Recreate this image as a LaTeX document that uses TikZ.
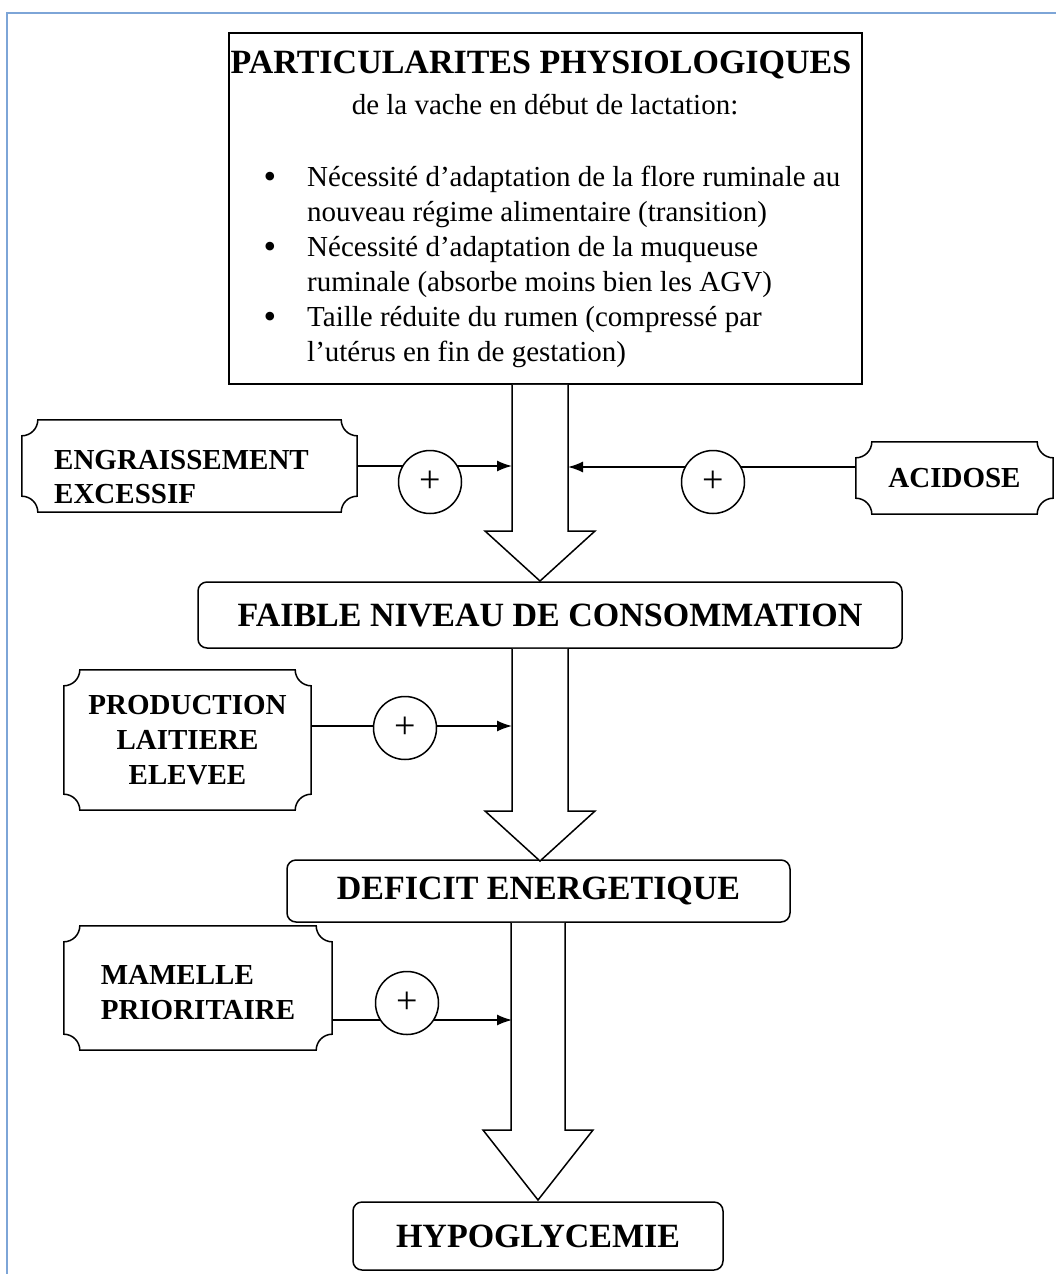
\documentclass[tikz,border=0pt]{standalone}
\usepackage{fontspec}
\setmainfont{Liberation Serif}
\usetikzlibrary{arrows.meta,backgrounds,calc}
\definecolor{frameblue}{RGB}{125,165,215}
\newcommand\plaque[1]{%
  \draw[line width=1.5pt]
    ([yshift=-16pt]#1.north west) .. controls ([xshift=8.8pt,yshift=-16pt]#1.north west) and ([xshift=16pt,yshift=-8.8pt]#1.north west) .. ([xshift=16pt]#1.north west)
    -- ([xshift=-16pt]#1.north east) .. controls ([xshift=-16pt,yshift=-8.8pt]#1.north east) and ([xshift=-8.8pt,yshift=-16pt]#1.north east) .. ([yshift=-16pt]#1.north east)
    -- ([yshift=16pt]#1.south east) .. controls ([xshift=-8.8pt,yshift=16pt]#1.south east) and ([xshift=-16pt,yshift=8.8pt]#1.south east) .. ([xshift=-16pt]#1.south east)
    -- ([xshift=16pt]#1.south west) .. controls ([xshift=16pt,yshift=8.8pt]#1.south west) and ([xshift=8.8pt,yshift=16pt]#1.south west) .. ([yshift=16pt]#1.south west)
    -- cycle;}
% #1 source node, #2 tip coordinate, #3 head height, #4 shaft half width, #5 head half width
\newcommand\blockarrow[5]{%
  \draw[barrow] let \p1=(#1.south), \p2=(#2) in
    (\x2-#4,\y1) -- (\x2-#4,\y2+#3) -- (\x2-#5,\y2+#3) -- (\x2,\y2)
    -- (\x2+#5,\y2+#3) -- (\x2+#4,\y2+#3) -- (\x2+#4,\y1);}
\begin{document}
\begin{tikzpicture}[x=1pt,y=-1pt,
  box/.style={draw,line width=1.5pt,inner sep=0pt},
  rbox/.style={draw,line width=1.5pt,rounded corners=9pt,inner sep=0pt,
    font=\fontsize{34}{38}\selectfont\bfseries},
  ptext/.style={inner sep=0pt,align=left,font=\fontsize{29}{34}\selectfont\bfseries},
  pluscirc/.style={circle,draw,line width=1.5pt,fill=white,minimum size=63pt,
    inner sep=0pt,font=\fontsize{38}{38}\selectfont},
  link/.style={line width=1.5pt,-{Latex[length=15pt,width=11pt]}},
  barrow/.style={draw,line width=1.5pt,fill=white,line join=miter},
  body/.style={inner sep=0pt,font=\fontsize{29}{35}\selectfont},
  bul/.style={inner sep=0pt,font=\fontsize{36}{35}\selectfont}
]
\useasboundingbox (0,0) rectangle (1056,1274);
\draw[frameblue,line width=2pt] (7,1274) -- (7,13) -- (1056,13);

% top box
\node[box,minimum width=633pt,minimum height=351pt] (top) at (545.5,208.5) {};
\node[inner sep=0pt,font=\fontsize{34}{34}\selectfont\bfseries] (title) at (541,65) {PARTICULARITES PHYSIOLOGIQUES};
\node[body] (sub) at (545,105) {de la vache en début de lactation:};
\node[bul,anchor=base] (bu1) at (270,188) {•};
\node[bul,anchor=base] (bu2) at (270,258) {•};
\node[bul,anchor=base] (bu3) at (270,328) {•};
\node[body,anchor=base west] (l1) at (307,186) {Nécessité d’adaptation de la flore ruminale au};
\node[body,anchor=base west] (l2) at (307,221) {nouveau régime alimentaire (transition)};
\node[body,anchor=base west] (l3) at (307,256) {Nécessité d’adaptation de la muqueuse};
\node[body,anchor=base west] (l4) at (307,291) {ruminale (absorbe moins bien les AGV)};
\node[body,anchor=base west] (l5) at (307,326) {Taille réduite du rumen (compressé par};
\node[body,anchor=base west] (l6) at (307,361) {l’utérus en fin de gestation)};

% main boxes
\node[rbox,minimum width=704pt,minimum height=66pt] (faible) at (550,615) {FAIBLE NIVEAU DE CONSOMMATION};
\node[rbox,minimum width=503pt,minimum height=62pt] (deficit) at (538.5,891) {DEFICIT ENERGETIQUE};
\node[rbox,minimum width=370pt,minimum height=68pt] (hypo) at (538,1236) {HYPOGLYCEMIE};

% block arrows
\coordinate (t1) at (540,581);
\coordinate (t2) at (540,861);
\coordinate (t3) at (538,1200);
\blockarrow{top}{t1}{50pt}{28pt}{55pt}
\blockarrow{faible}{t2}{50pt}{28pt}{55pt}
\blockarrow{deficit}{t3}{70pt}{27pt}{55pt}

% side factors
\node[minimum width=335pt,minimum height=92pt,inner sep=0pt,
  label={[ptext,xshift=-8pt,yshift=-11pt]center:{ENGRAISSEMENT\\EXCESSIF}}] (eng) at (189.5,466) {};
\plaque{eng}
\node[ptext,minimum width=197pt,minimum height=72pt] (acid) at (954.5,478) {ACIDOSE};
\plaque{acid}
\node[ptext,align=center,font=\fontsize{29}{35}\selectfont\bfseries,minimum width=247pt,minimum height=140pt] (prod) at (187.5,740) {PRODUCTION\\LAITIERE\\ELEVEE};
\plaque{prod}
\node[minimum width=268pt,minimum height=124pt,inner sep=0pt,
  label={[ptext,font=\fontsize{29}{35}\selectfont\bfseries,yshift=-5pt]center:{MAMELLE\\PRIORITAIRE}}] (mam) at (198,988) {};
\plaque{mam}

\coordinate (in1) at (512,466);
\coordinate (in2) at (568,467);
\coordinate (in3) at (512,726);
\coordinate (in4) at (512,1020);
\draw[link] (eng.east |- in1) -- (in1);
\draw[link] (acid.west |- in2) -- (in2);
\draw[link] (prod.east |- in3) -- (in3);
\draw[link] (mam.east |- in4) -- (in4);

\node[pluscirc] (p1) at (430,482) {+};
\node[pluscirc] (p2) at (713,482) {+};
\node[pluscirc] (p3) at (405,728) {+};
\node[pluscirc] (p4) at (407,1003) {+};
\end{tikzpicture}
\end{document}
